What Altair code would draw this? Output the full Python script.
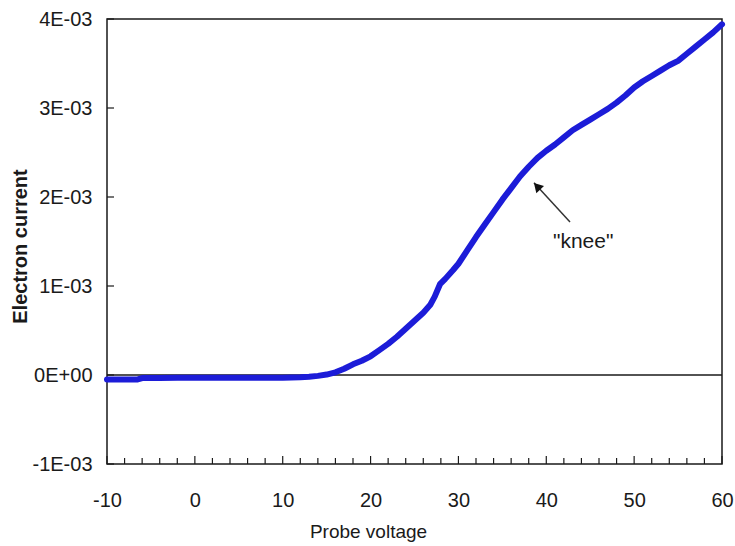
import altair as alt
import pandas as pd

# Probe voltage (V) and electron current (A)
voltage = [-10, -8, -6.5, -6, -4, -2, 0, 2, 4, 6, 8, 10, 12, 13, 14, 15, 16, 17, 18, 19,
           20, 21, 22, 23, 24, 25, 26, 26.8, 27.3, 27.9, 28.5, 29.4, 30, 31, 32, 33, 34,
           35, 36, 37, 38, 39, 40, 41, 42, 43, 44, 45, 46, 47, 48, 49, 50, 51, 52, 53,
           54, 55, 56, 57, 58, 59, 60]
current_mA = [-0.05, -0.05, -0.05, -0.035, -0.035, -0.032, -0.03, -0.03, -0.03, -0.03,
              -0.03, -0.03, -0.025, -0.02, -0.01, 0.005, 0.03, 0.07, 0.12, 0.16,
              0.21, 0.28, 0.35, 0.43, 0.52, 0.61, 0.70, 0.79, 0.88, 1.02, 1.08, 1.18,
              1.25, 1.40, 1.55, 1.69, 1.83, 1.97, 2.10, 2.23, 2.34, 2.44, 2.52, 2.59,
              2.67, 2.75, 2.81, 2.87, 2.93, 2.99, 3.06, 3.14, 3.23, 3.30, 3.36, 3.42,
              3.48, 3.53, 3.61, 3.69, 3.77, 3.85, 3.94]
current = [v * 1e-3 for v in current_mA]

x_ticks = list(range(-10, 61, 2))
x_labels = list(range(-10, 61, 10))
y_ticks = [-1e-3, 0, 1e-3, 2e-3, 3e-3, 4e-3]

# annotation: arrow from label to the knee
arrow_tail = (42.7, 1.72e-3)
arrow_tip = (38.6, 2.16e-3)
arrow_head = (38.95, 2.12e-3)
knee_label = ('"knee"', 44.2, 1.5e-3)

W, H = 615, 445
FONT = "Liberation Sans"
BLUE = "#1c1cd8"
INK = "#1a1a1a"

df = pd.DataFrame({"v": voltage, "i": current})
xs = alt.Scale(domain=[-10, 60], nice=False, zero=False)
ys = alt.Scale(domain=[-1e-3, 4e-3], nice=False, zero=False)

label_expr = ("datum.value < -0.0005 ? '-1E-03' : datum.value < 0.0005 ? '0E+00' : "
              "datum.value < 0.0015 ? '1E-03' : datum.value < 0.0025 ? '2E-03' : "
              "datum.value < 0.0035 ? '3E-03' : '4E-03'")

line = alt.Chart(df).mark_line(color=BLUE, strokeWidth=6, strokeCap="round", strokeJoin="round").encode(
    x=alt.X("v:Q", scale=xs, title="Probe voltage",
            axis=alt.Axis(values=x_labels, labelExpr="'' + datum.value",
                          ticks=False, tickSize=0, domain=False, grid=False,
                          labelFlush=False, labelOverlap=False,
                          labelFont=FONT, labelFontSize=20, labelColor=INK, labelPadding=26,
                          titleFont=FONT, titleFontSize=19, titleFontWeight="normal", titleColor=INK,
                          titleX=261, titleY=73, titleAnchor="middle", titleAlign="center",
                          titleBaseline="alphabetic")),
    y=alt.Y("i:Q", scale=ys, title="Electron current",
            axis=alt.Axis(values=y_ticks, labelExpr=label_expr, ticks=False, tickSize=0, domain=False, grid=False,
                          labelFlush=False, labelOverlap=False,
                          labelFont=FONT, labelFontSize=20, labelColor=INK, labelPadding=15,
                          titleFont=FONT, titleFontSize=20, titleFontWeight="bold", titleColor=INK,
                          titleX=-87, titleY=227, titleAngle=-90, titleAlign="center", titleBaseline="middle")),
)

zero_df = pd.DataFrame({"z": [0.0]})
zero_line = alt.Chart(zero_df).mark_rule(color=INK, strokeWidth=1.5).encode(
    y=alt.Y("z:Q", scale=ys), x=alt.value(0), x2=alt.value(W))

xt_df = pd.DataFrame({"t": x_ticks, "major": [t % 10 == 0 for t in x_ticks]})
xt_major = alt.Chart(xt_df[xt_df.major]).mark_rule(color=INK, strokeWidth=1.2).encode(
    x=alt.X("t:Q", scale=xs), y=alt.value(H), y2=alt.value(H - 8))
xt_minor = alt.Chart(xt_df[~xt_df.major]).mark_rule(color=INK, strokeWidth=1.2).encode(
    x=alt.X("t:Q", scale=xs), y=alt.value(H), y2=alt.value(H - 6))

yt_df = pd.DataFrame({"t": y_ticks})
yt = alt.Chart(yt_df).mark_rule(color=INK, strokeWidth=1.2).encode(
    y=alt.Y("t:Q", scale=ys), x=alt.value(0), x2=alt.value(7))

arrow_df = pd.DataFrame({"x": [arrow_tail[0]], "y": [arrow_tail[1]],
                         "x2": [arrow_tip[0]], "y2": [arrow_tip[1]]})
arrow_line = alt.Chart(arrow_df).mark_rule(color="#333333", strokeWidth=1.5).encode(
    x=alt.X("x:Q", scale=xs), y=alt.Y("y:Q", scale=ys), x2="x2:Q", y2="y2:Q")
head_df = pd.DataFrame({"x": [arrow_head[0]], "y": [arrow_head[1]]})
arrow_headm = alt.Chart(head_df).mark_point(shape="triangle-up", filled=True, color="#111111",
                                            size=110, angle=317, opacity=1).encode(
    x=alt.X("x:Q", scale=xs), y=alt.Y("y:Q", scale=ys))

lab_df = pd.DataFrame({"t": [knee_label[0]], "x": [knee_label[1]], "y": [knee_label[2]]})
label = alt.Chart(lab_df).mark_text(font=FONT, fontSize=21, color=INK, align="center",
                                    baseline="middle").encode(
    x=alt.X("x:Q", scale=xs), y=alt.Y("y:Q", scale=ys), text="t:N")

chart = alt.layer(zero_line, line, xt_major, xt_minor, yt, arrow_line, arrow_headm, label).properties(
    width=W, height=H,
    background="white",
    autosize=alt.AutoSizeParams(type="none"),
    padding={"left": 107, "top": 19, "right": 13, "bottom": 82},
).configure_view(stroke=INK, strokeWidth=1.5)

chart.save("out.html", embed_options={"renderer": "svg", "actions": False})
